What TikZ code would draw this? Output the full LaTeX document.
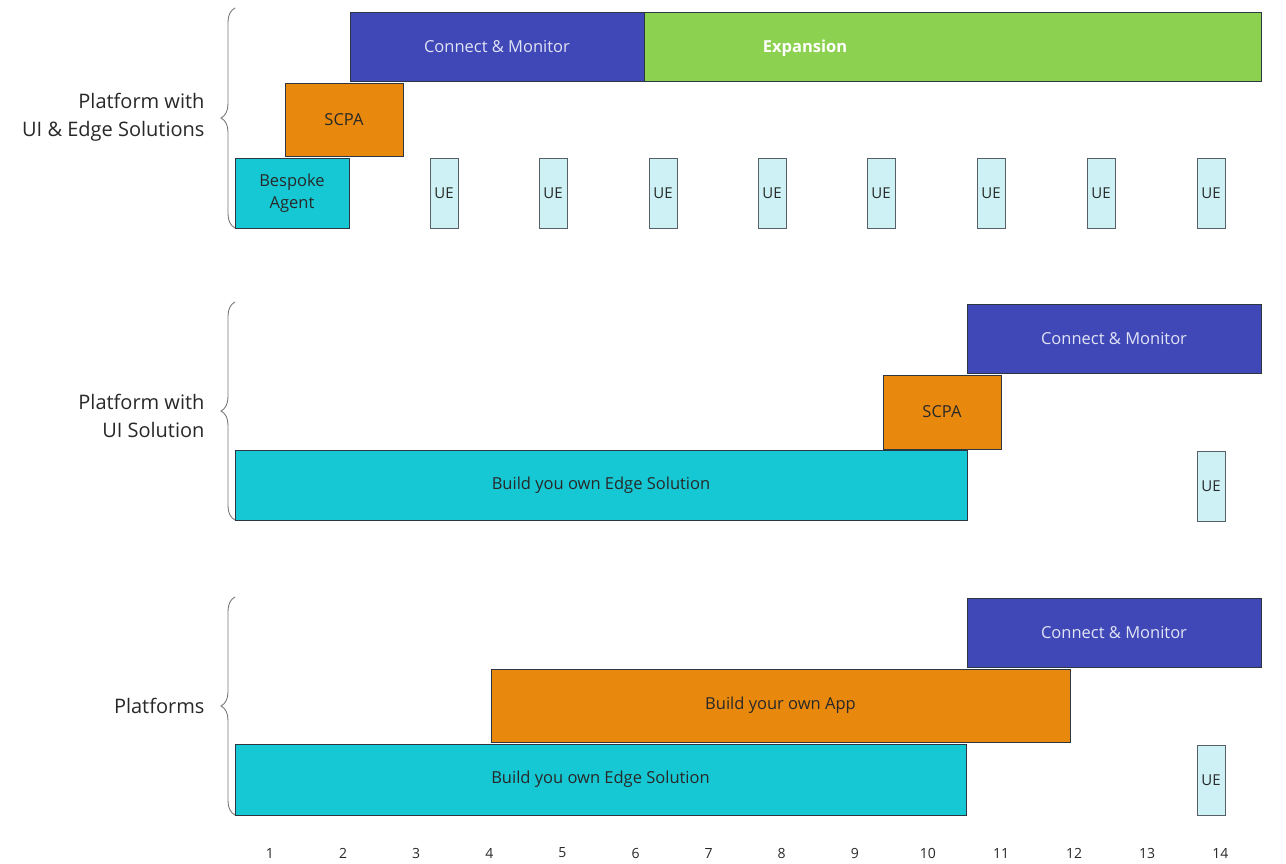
\documentclass[tikz,border=0pt]{standalone}
\usepackage{fontspec}
\setmainfont{Open Sans}
\usetikzlibrary{decorations.pathreplacing}
\definecolor{cmblue}{RGB}{64,72,184}
\definecolor{exgreen}{RGB}{140,210,80}
\definecolor{scorange}{RGB}{232,137,14}
\definecolor{edteal}{RGB}{22,200,212}
\definecolor{uefill}{RGB}{205,241,245}
\definecolor{edgeline}{RGB}{45,55,65}
\definecolor{bracegray}{RGB}{120,120,120}
\definecolor{darktext}{RGB}{40,40,40}
\definecolor{lighttext}{RGB}{225,228,245}
\tikzset{
  bar/.style={draw=edgeline, line width=0.9pt, anchor=north west, inner sep=0pt, outer sep=0pt, align=center, font=\fontsize{16.5}{22}\selectfont},
  bluebar/.style={bar, fill=cmblue, text=lighttext},
  greenbar/.style={bar, fill=exgreen, text=white},
  orangebar/.style={bar, fill=scorange, text=darktext},
  tealbar/.style={bar, fill=edteal, text=darktext},
  uebox/.style={draw=edgeline!80, line width=0.8pt, fill=uefill, anchor=north, inner sep=0pt, outer sep=0pt, minimum width=28pt, minimum height=70pt, font=\fontsize{15}{16}\selectfont, text=darktext},
  grplabel/.style={anchor=east, align=right, font=\fontsize{20}{28}\selectfont, text=darktext},
  grpbrace/.style={decorate, decoration={brace, amplitude=14pt}, draw=bracegray, line width=0.9pt},
  axislabel/.style={font=\fontsize{14}{16}\selectfont, text=darktext}
}
\begin{document}
\begin{tikzpicture}[x=1pt,y=-1pt]
\useasboundingbox[fill=white] (0,0) rectangle (1286,864);
% ---------- group 1 ----------
\node[bluebar, minimum width=294pt, minimum height=69pt] (cm1) at (350,12) {};
\node[greenbar, minimum width=617pt, minimum height=69pt] (ex1) at (644,12) {};
\node[text=lighttext, font=\fontsize{16.5}{22}\selectfont] (cm1t) at (497,47) {Connect \& Monitor};
\node[text=white, font=\fontsize{16.5}{22}\selectfont\bfseries] (ex1t) at (805,48) {Expansion};
\node[orangebar, minimum width=118pt, minimum height=73pt] (sc1) at (285,83) {SCPA};
\node[tealbar, minimum width=114pt, minimum height=70pt, font=\fontsize{16.5}{22}\selectfont] (ba1) at (235,158) {Bespoke\\Agent};
\foreach \i/\x in {1/444,2/553,3/663,4/772,5/881,6/991,7/1101,8/1211}
  \node[uebox] (ue1\i) at (\x,158) {UE};
\coordinate (b1a) at (235,228);
\coordinate (b1b) at (235,8);
\draw[grpbrace] (b1a) -- (b1b);
\node[grplabel] (lab1) at (208,117) {Platform with\\UI \& Edge Solutions};
% ---------- group 2 ----------
\node[bluebar, minimum width=294pt, minimum height=69pt] (cm2) at (967,304) {Connect \& Monitor};
\node[orangebar, minimum width=118pt, minimum height=74pt] (sc2) at (883,375) {SCPA};
\node[tealbar, minimum width=732pt, minimum height=70pt] (ed2) at (235,450) {Build you own Edge Solution};
\node[uebox] (ue2) at (1211,451) {UE};
\coordinate (b2a) at (235,520);
\coordinate (b2b) at (235,302);
\draw[grpbrace] (b2a) -- (b2b);
\node[grplabel] (lab2) at (208,416) {Platform with\\UI Solution};
% ---------- group 3 ----------
\node[bluebar, minimum width=294pt, minimum height=69pt] (cm3) at (967,598) {Connect \& Monitor};
\node[orangebar, minimum width=579pt, minimum height=73pt] (ap3) at (491,669) {Build your own App};
\node[tealbar, minimum width=731pt, minimum height=71pt] (ed3) at (235,744) {Build you own Edge Solution};
\node[uebox] (ue3) at (1211,745) {UE};
\coordinate (b3a) at (235,815);
\coordinate (b3b) at (235,597);
\draw[grpbrace] (b3a) -- (b3b);
\node[grplabel] (lab3) at (208,706) {Platforms};
% ---------- axis ----------
\foreach \n in {1,...,14}
  \node[axislabel] (ax\n) at ({270+(\n-1)*73.1},853) {\n};
\end{tikzpicture}
\end{document}
